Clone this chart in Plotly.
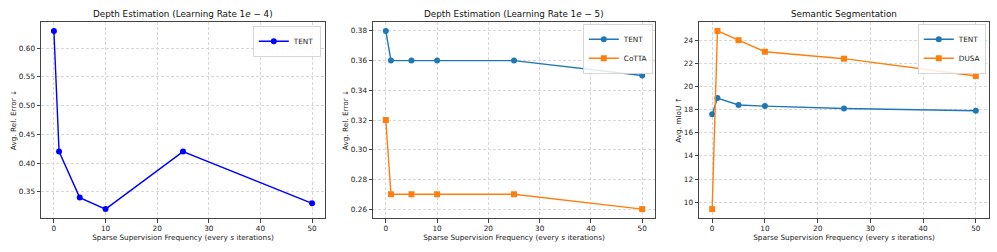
import plotly.graph_objects as go

# ---- data ----
freq = [0, 1, 5, 10, 25, 50]
tent_lr4 = [0.63, 0.42, 0.34, 0.32, 0.42, 0.33]
tent_lr5 = [0.38, 0.36, 0.36, 0.36, 0.36, 0.35]
cotta_lr5 = [0.32, 0.27, 0.27, 0.27, 0.27, 0.26]
tent_seg = [17.6, 19.0, 18.4, 18.3, 18.1, 17.9]
dusa_seg = [9.4, 24.8, 24.0, 23.0, 22.4, 20.9]

titles = ["Depth Estimation (Learning Rate 1<i>e</i> − 4)",
          "Depth Estimation (Learning Rate 1<i>e</i> − 5)",
          "Semantic Segmentation"]
ylabels = ["Avg. Rel. Error ↓", "Avg. Rel. Error ↓", "Avg. mIoU ↑"]
xlabel = "Sparse Supervision Frequency (every <i>s</i> iterations)"

W, H = 997, 252
FONT = "DejaVu Sans"
BLUE = "#1f77b4"
ORANGE = "#ff7f0e"

xdoms = [(41, 325), (373, 655), (699, 989)]
ytop, ybot = 22, 218
ydom = [1 - ybot / H, 1 - ytop / H]

fig = go.Figure()

def add(x, y, name, color, symbol, idx, legend):
    fig.add_trace(go.Scatter(
        x=x, y=y, name=name, mode="lines+markers",
        line=dict(color=color, width=1.4),
        marker=dict(color=color, symbol=symbol, size=6),
        xaxis="x" if idx == 1 else f"x{idx}",
        yaxis="y" if idx == 1 else f"y{idx}",
        legend=legend,
    ))

add(freq, tent_lr4, "TENT", "#0000ff", "circle", 1, "legend")
add(freq, tent_lr5, "TENT", BLUE, "circle", 2, "legend2")
add(freq, cotta_lr5, "CoTTA", ORANGE, "square", 2, "legend2")
add(freq, tent_seg, "TENT", BLUE, "circle", 3, "legend3")
add(freq, dusa_seg, "DUSA", ORANGE, "square", 3, "legend3")

def pad(vals):
    lo, hi = min(vals), max(vals)
    m = (hi - lo) * 0.05
    return [lo - m, hi + m]

yranges = [pad(tent_lr4), pad(tent_lr5 + cotta_lr5), pad(tent_seg + dusa_seg)]
ydtick = [0.05, 0.02, 2]
yfmt = [".2f", ".2f", "d"]

axis_common = dict(
    showline=True, linecolor="#444", linewidth=1, mirror=True,
    ticks="outside", ticklen=3.5, tickwidth=0.8, tickcolor="#444",
    showgrid=True, gridcolor="#d8d8d8", griddash="3px,2px", gridwidth=0.7,
    zeroline=False, tickfont=dict(family=FONT, size=7.3, color="#222"),
)

layout = {}
for i in range(3):
    k = "" if i == 0 else str(i + 1)
    x0, x1 = xdoms[i]
    layout[f"xaxis{k}"] = dict(
        domain=[x0 / W, x1 / W], anchor=f"y{k}", range=[-2.5, 52.5],
        tickvals=[0, 10, 20, 30, 40, 50],
        title=dict(text=xlabel, font=dict(family=FONT, size=7.3, color="#222"), standoff=0),
        **axis_common)
    layout[f"yaxis{k}"] = dict(
        domain=ydom, anchor=f"x{k}", range=yranges[i], dtick=ydtick[i],
        tickformat=yfmt[i],
        title=dict(text=ylabels[i], font=dict(family=FONT, size=7.3, color="#222"), standoff=1),
        **axis_common)

annotations = []
for i in range(3):
    x0, x1 = xdoms[i]
    annotations.append(dict(
        text=titles[i], xref="paper", yref="paper",
        x=(x0 + x1) / 2 / W, y=ydom[1], xanchor="center", yanchor="bottom",
        yshift=1, showarrow=False, font=dict(family=FONT, size=8.8, color="#111")))

leg_common = dict(
    xanchor="right", yanchor="top", bgcolor="rgba(255,255,255,0.85)",
    bordercolor="#cccccc", borderwidth=0.8,
    font=dict(family=FONT, size=7.3, color="#222"),
    tracegroupgap=0, itemwidth=30,
)
layout["legend"] = dict(x=321 / W, y=1 - 26 / H, **leg_common)
layout["legend2"] = dict(x=653 / W, y=1 - 24 / H, **leg_common)
layout["legend3"] = dict(x=986 / W, y=1 - 24 / H, **leg_common)

fig.update_layout(
    width=W, height=H, margin=dict(l=0, r=0, t=0, b=0),
    paper_bgcolor="white", plot_bgcolor="white",
    annotations=annotations, showlegend=True,
    font=dict(family=FONT),
    **layout,
)

fig.write_html(
    "out.html",
    config={"displayModeBar": False},
    post_script="document.body.style.margin='0';document.body.style.overflow='hidden';",
)
